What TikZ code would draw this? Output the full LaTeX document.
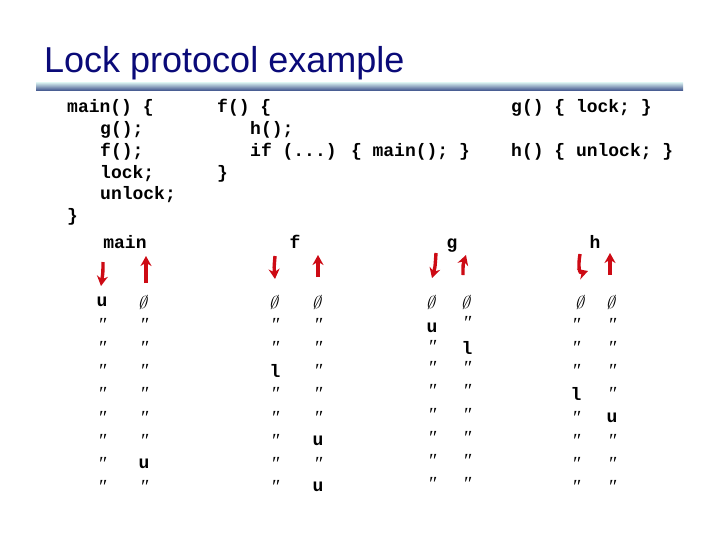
\documentclass[tikz,border=0pt]{standalone}
\usepackage{fontspec}
\setmainfont{Liberation Serif}
\newfontfamily\titlefont{Liberation Sans}
\newfontfamily\codefont{Liberation Mono}
\usetikzlibrary{arrows.meta}
\definecolor{titleblue}{RGB}{10,10,120}
\definecolor{arrowred}{RGB}{205,10,20}
\definecolor{barlight}{RGB}{205,228,232}
\definecolor{bardark}{RGB}{55,75,135}
\newcommand\mkE{\tikz[baseline=0pt,xslant=0.25]\node[inner sep=0,transform shape]{\fontsize{19}{19}\selectfont$\emptyset$};}
\newcommand\mkD{{\fontsize{20}{20}\selectfont\itshape \symbol{"2033}}}
\newcommand\mkU{{\codefont\bfseries\fontsize{18}{18}\selectfont u}}
\newcommand\mkL{{\codefont\bfseries\fontsize{18}{18}\selectfont l}}
\begin{document}
\begin{tikzpicture}[x=1pt,y=-1pt,
  code/.style={anchor=base west,inner sep=0,font=\codefont\bfseries\fontsize{18}{21}\selectfont},
  head/.style={anchor=base,inner sep=0,font=\codefont\bfseries\fontsize{18}{21}\selectfont},
  cell/.style={inner sep=0},
  redarrow/.style={draw=arrowred,line width=3.4pt,-{Stealth[length=10pt,width=11pt]}}]
\useasboundingbox (0,0) rectangle (720,540);
% title
\node[anchor=base west,inner sep=0,text=titleblue,font=\titlefont\fontsize{36}{36}\selectfont] (title) at (44,73) {Lock protocol example};
\shade[top color=barlight,bottom color=bardark] (36,83) rectangle (683,91);
% code
\node[code] (c1) at (67,113) {main() \{};
\node[code] (c2) at (100,135) {g();};
\node[code] (c3) at (100,157) {f();};
\node[code] (c4) at (100,179) {lock;};
\node[code] (c5) at (100,200) {unlock;};
\node[code] (c6) at (67,222) {\}};
\node[code] (d1) at (217,113) {f() \{};
\node[code] (d2) at (250,135) {h();};
\node[code] (d3) at (250,157) {if (...) \{ main(); \}};
\node[code] (d4) at (217,179) {\}};
\node[code] (e1) at (511,113) {g() \{ lock; \}};
\node[code] (e2) at (511,157) {h() \{ unlock; \}};
% headers
\node[head] (hmain) at (125,248) {main};
\node[head] (hf) at (295,248) {f};
\node[head] (hg) at (452,248) {g};
\node[head] (hh) at (595,248) {h};
% arrows
\coordinate (a1s) at (103,262); \coordinate (a1e) at (101,286);
\coordinate (a2s) at (146,283); \coordinate (a2e) at (146,256);
\coordinate (a3s) at (275,256); \coordinate (a3e) at (275,279);
\coordinate (a4s) at (318,277); \coordinate (a4e) at (318,255);
\coordinate (a5s) at (436,253); \coordinate (a5e) at (432,278);
\coordinate (a6s) at (463,275); \coordinate (a6e) at (466,255);
\coordinate (a7s) at (580,254); \coordinate (a7e) at (588,271);
\coordinate (a8s) at (610,275); \coordinate (a8e) at (610,253);
\draw[redarrow] (a1s) .. controls (103,272) .. (a1e);
\draw[redarrow] (a2s) -- (a2e);
\draw[redarrow] (a3s) .. controls (274,268) .. (a3e);
\draw[redarrow] (a4s) -- (a4e);
\draw[redarrow] (a5s) .. controls (435,268) .. (a5e);
\draw[redarrow] (a6s) .. controls (463,264) .. (a6e);
\draw[redarrow] (a7s) .. controls (578,266) and (579,274) .. (a7e);
\draw[redarrow] (a8s) -- (a8e);
% table
\foreach \v [count=\i] in {\mkU,\mkD,\mkD,\mkD,\mkD,\mkD,\mkD,\mkD,\mkD}
  \node[cell] (mL\i) at (102,{302+23.1*(\i-1)}) {\v};
\foreach \v [count=\i] in {\mkE,\mkD,\mkD,\mkD,\mkD,\mkD,\mkD,\mkU,\mkD}
  \node[cell] (mR\i) at (144,{302+23.1*(\i-1)}) {\v};
\foreach \v [count=\i] in {\mkE,\mkD,\mkD,\mkL,\mkD,\mkD,\mkD,\mkD,\mkD}
  \node[cell] (fL\i) at (275,{302+23.1*(\i-1)}) {\v};
\foreach \v [count=\i] in {\mkE,\mkD,\mkD,\mkD,\mkD,\mkD,\mkU,\mkD,\mkU}
  \node[cell] (fR\i) at (318,{302+23.1*(\i-1)}) {\v};
\node[cell] (gL1) at (432,302) {\mkE};
\node[cell] (gL2) at (432,328) {\mkU};
\node[cell] (gL3) at (432,347) {\mkD};
\foreach \v [count=\i from 4] in {\mkD,\mkD,\mkD,\mkD,\mkD,\mkD}
  \node[cell] (gL\i) at (432,{302+23.1*(\i-1)-3}) {\v};
\node[cell] (gR1) at (467,302) {\mkE};
\node[cell] (gR2) at (467,323) {\mkD};
\node[cell] (gR3) at (467,348) {\mkL};
\foreach \v [count=\i from 4] in {\mkD,\mkD,\mkD,\mkD,\mkD,\mkD}
  \node[cell] (gR\i) at (467,{302+23.1*(\i-1)-3}) {\v};
\node[cell] (hL1) at (581,302) {\mkE};
\foreach \v [count=\i from 2] in {\mkD,\mkD,\mkD,\mkL,\mkD,\mkD,\mkD,\mkD}
  \node[cell] (hL\i) at (576,{302+23.1*(\i-1)}) {\v};
\foreach \v [count=\i] in {\mkE,\mkD,\mkD,\mkD,\mkD,\mkU,\mkD,\mkD,\mkD}
  \node[cell] (hR\i) at (612,{302+23.1*(\i-1)}) {\v};
\end{tikzpicture}
\end{document}
